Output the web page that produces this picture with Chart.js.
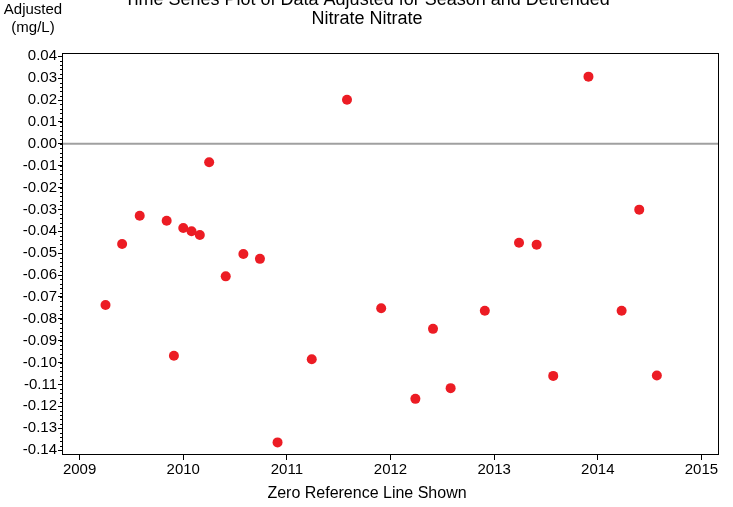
<!DOCTYPE html>
<html>
<head>
<meta charset="utf-8">
<script src="https://cdn.jsdelivr.net/npm/chart.js@4/dist/chart.umd.min.js"></script>
<style>
  html, body { margin: 0; padding: 0; background: #fff; }
  #wrap { position: relative; width: 733px; height: 507px; }
</style>
</head>
<body>
<div id="wrap"><canvas id="nitrateChart" width="733" height="507"></canvas></div>
<script>
// Sample dates (decimal years) and season-adjusted, detrended nitrate values
const sampleDates = [
  2009.25, 2009.41, 2009.58, 2009.84, 2009.91, 2010.00, 2010.08, 2010.16, 2010.25,
  2010.41, 2010.58, 2010.74, 2010.91, 2011.24, 2011.58, 2011.91, 2012.24, 2012.41,
  2012.58, 2012.91, 2013.24, 2013.41, 2013.57, 2013.91, 2014.23, 2014.40, 2014.57
];
const adjustedValues = [
  -0.0737, -0.0458, -0.0329, -0.0352, -0.0969, -0.0385, -0.0400, -0.0417, -0.0084,
  -0.0606, -0.0504, -0.0526, -0.1365, -0.0985, 0.0201, -0.0752, -0.1166, -0.0846,
  -0.1117, -0.0763, -0.0452, -0.0461, -0.1061, 0.0307, -0.0763, -0.0301, -0.1059
];
const yTickValues = [0.04, 0.03, 0.02, 0.01, 0, -0.01, -0.02, -0.03, -0.04, -0.05,
  -0.06, -0.07, -0.08, -0.09, -0.10, -0.11, -0.12, -0.13, -0.14];
const xTickValues = [2009, 2010, 2011, 2012, 2013, 2014, 2015];
const titleLines = ['Time Series Plot of Data Adjusted for Season and Detrended', 'Nitrate Nitrate'];
const yUnitLines = ['Adjusted', '(mg/L)'];
const xAxisTitle = 'Zero Reference Line Shown';

const FONT = 'Arial, "Liberation Sans", sans-serif';
Chart.defaults.font.family = FONT;
Chart.defaults.color = '#000';

// Draws the frame, minor ticks, zero line and all the surrounding texts
const decorPlugin = {
  id: 'decor',
  beforeDatasetsDraw(chart) {
    const { ctx, chartArea: area, scales } = chart;
    ctx.save();
    // zero reference line
    const y0 = scales.y.getPixelForValue(0);
    ctx.strokeStyle = '#a0a0a0';
    ctx.lineWidth = 2;
    ctx.beginPath();
    ctx.moveTo(area.left, y0);
    ctx.lineTo(area.right, y0);
    ctx.stroke();
    ctx.restore();
  },
  afterDraw(chart) {
    const { ctx, chartArea: area, scales } = chart;
    ctx.save();
    ctx.strokeStyle = '#000';
    ctx.lineWidth = 1;
    ctx.strokeRect(Math.round(area.left) + 0.5, Math.round(area.top) + 0.5,
      Math.round(area.right - area.left), Math.round(area.bottom - area.top));

    // minor ticks on the y axis
    ctx.beginPath();
    for (let i = -71; i <= 20; i++) {
      const py = Math.round(scales.y.getPixelForValue(i * 0.002)) + 0.5;
      if (py < area.top || py > area.bottom) continue;
      ctx.moveTo(area.left, py);
      ctx.lineTo(area.left - 2, py);
    }
    ctx.stroke();

    ctx.fillStyle = '#000';
    ctx.textAlign = 'center';
    ctx.textBaseline = 'middle';
    ctx.font = '18px ' + FONT;
    ctx.fillText(titleLines[0], 367, 0);
    ctx.fillText(titleLines[1], 367, 19);

    ctx.font = '15px ' + FONT;
    ctx.fillText(yUnitLines[0], 33, 10);
    ctx.fillText(yUnitLines[1], 33, 28);

    ctx.font = '16px ' + FONT;
    ctx.fillText(xAxisTitle, 367, 494);
    ctx.restore();
  }
};

const ctx = document.getElementById('nitrateChart').getContext('2d');
new Chart(ctx, {
  type: 'scatter',
  data: {
    datasets: [{
      label: 'Adjusted',
      data: sampleDates.map((d, i) => ({ x: d, y: adjustedValues[i] })),
      pointRadius: 5,
      pointHoverRadius: 5,
      pointBackgroundColor: '#ec1c24',
      pointBorderWidth: 0,
      borderWidth: 0,
    }],
  },
  options: {
    responsive: false,
    animation: false,
    devicePixelRatio: 1,
    layout: { padding: { top: 53, right: 15, left: 0, bottom: 0 } },
    plugins: {
      legend: { display: false },
      tooltip: { enabled: false },
      title: { display: false },
    },
    scales: {
      x: {
        type: 'linear',
        min: 2008.83,
        max: 2015.16,
        afterBuildTicks: scale => { scale.ticks = xTickValues.map(v => ({ value: v })); },
        afterFit: scale => { scale.height = 53; },
        grid: { drawOnChartArea: false, drawTicks: true, tickLength: 6, color: '#000' },
        border: { display: true, color: '#000' },
        ticks: {
          padding: 1,
          font: { size: 15 },
          color: '#000',
          maxRotation: 0,
          callback: v => String(v),
        },
      },
      y: {
        min: -0.1418,
        max: 0.0415,
        afterBuildTicks: scale => { scale.ticks = yTickValues.map(v => ({ value: v })); },
        afterFit: scale => { scale.width = 62; },
        grid: { drawOnChartArea: false, drawTicks: true, tickLength: 4, color: '#000' },
        border: { display: true, color: '#000' },
        ticks: {
          padding: 1,
          font: { size: 15 },
          color: '#000',
          callback: v => v.toFixed(2),
        },
      },
    },
  },
  plugins: [decorPlugin],
});
</script>
</body>
</html>
